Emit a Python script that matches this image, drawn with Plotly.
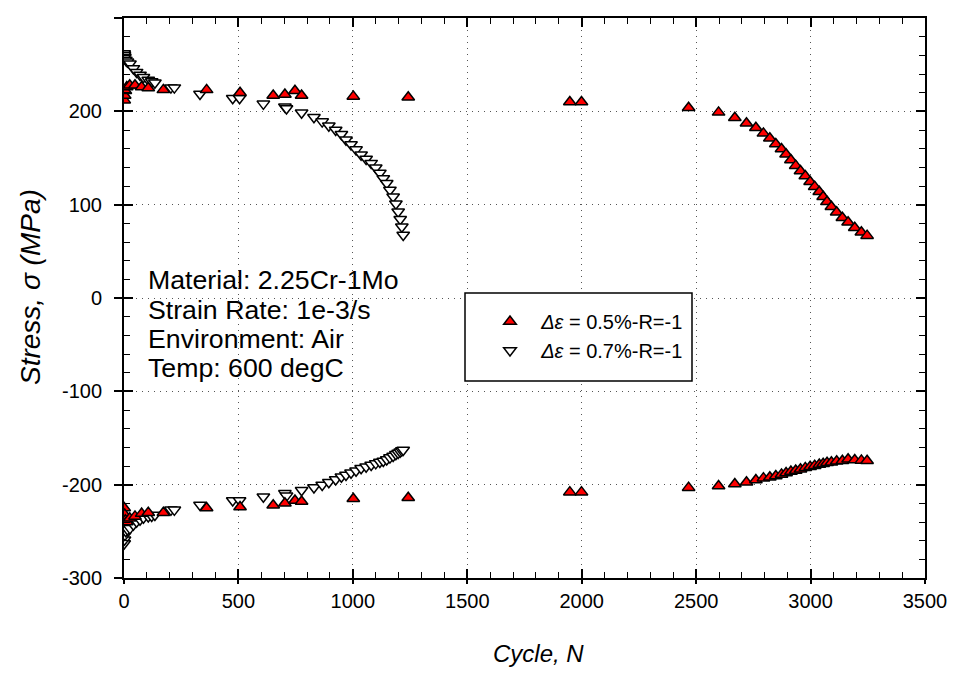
import plotly.graph_objects as go

# ---- data ----
N05 = [1, 3, 6, 12, 25, 48, 77, 106, 172, 361, 507, 652, 703, 747, 776, 1002, 1242, 1948, 1999,
       2467, 2598, 2669, 2720, 2761, 2794, 2822, 2848, 2873, 2893, 2914, 2935, 2956, 2977, 2998,
       3018, 3038, 3055, 3072, 3091, 3114, 3139, 3164, 3193, 3222, 3247]
max05 = [212, 217, 222, 226, 228, 228, 226, 225, 223, 223, 220, 217, 218, 222, 217, 216, 215, 210, 210,
         203.9, 198.9, 193.2, 187.2, 182.5, 176.4, 171.1, 165, 159.6, 154, 147.9, 141.8, 136, 130.7,
         124.6, 119.3, 113.9, 108.5, 103.2, 97.8, 91.8, 86, 81.1, 75.3, 70.4, 66.8]
min05 = [-225, -232, -238, -240, -236, -234, -231, -230, -230, -225, -224, -222, -220, -217, -218, -215,
         -214, -208, -208, -203.2, -201.4, -199.3, -197.5, -195, -193, -192, -190.7, -189, -187.5, -186,
         -184.8, -183.5, -182, -180.8, -179.6, -178.5, -177.5, -176.6, -176, -175, -174.3, -172.8,
         -173.6, -174, -174.3]

N07 = [1, 2, 4, 8, 15, 26, 41, 55, 70, 85, 106, 121, 135, 205, 220, 332, 475, 505, 609, 703, 710, 776,
       830, 866, 895, 925, 950, 970, 992, 1014, 1036, 1058, 1080, 1100, 1118, 1133, 1148, 1162, 1176,
       1188, 1198, 1207, 1214, 1220]
max07 = [262, 260, 258, 255, 253, 251, 246, 242, 239, 236.5, 233.6, 232, 230.7, 225.4, 225.4, 218.6, 214,
         214, 208, 205, 203, 198.5, 193.6, 189, 184.5, 180, 175.5, 169.5, 164.5, 159, 153.5, 149, 144.5,
         139.5, 134, 128, 123, 115.7, 108.5, 101, 92.5, 84.3, 76.4, 67.5]
min07 = [-263, -259, -254, -250, -248, -246.8, -243, -239.7, -237.5, -235.5, -234, -233.6, -232.5, -227,
         -227, -221.8, -217, -217, -213, -209.3, -212, -206, -203, -200.4, -197.5, -194.5, -191.5,
         -189.6, -187.2, -185, -182.5, -180.7, -179, -177.2, -175.8, -174.6, -173, -171, -169.3, -167.5,
         -166, -164.7, -163.5, -162.9]

x_tickvals = [0, 500, 1000, 1500, 2000, 2500, 3000, 3500]
x_ticktext = ["0", "500", "1000", "1500", "2000", "2500", "3000", "3500"]
y_tickvals = [-300, -200, -100, 0, 100, 200, 300]
y_ticktext = ["-300", "-200", "-100", "0", "100", "200", "300"]

x_title = "Cycle, N"
y_title = "Stress, σ (MPa)"
labels = ["\u00a0\u00a0<i>Δε</i> = 0.5%-R=-1", "\u00a0\u00a0<i>Δε</i> = 0.7%-R=-1"]
info_lines = ["Material: 2.25Cr-1Mo", "Strain Rate: 1e-3/s", "Environment: Air", "Temp: 600 degC"]

FONT = "Liberation Sans, Arial, sans-serif"

# page has an 8px body margin; figure sized to fit the 956x677 window
W, H = 940, 661
OFF = 8
PL, PR, PT, PB = 124 - OFF, 925 - OFF, 18 - OFF, 578 - OFF  # plot area in figure coords
PW, PH = PR - PL, PB - PT


def px_x(px):  # page px -> paper fraction
    return (px - OFF - PL) / PW


def px_y(py):
    return (PB - (py - OFF)) / PH


fig = go.Figure()

m07 = dict(symbol="triangle-down", size=11, color="white", line=dict(color="black", width=1.5))
m05 = dict(symbol="triangle-up", size=11, color="#ff0000", line=dict(color="black", width=1.5))

fig.add_trace(go.Scatter(x=N07, y=max07, mode="markers", marker=m07, name=labels[1],
                         legendgroup="b", legendrank=2))
fig.add_trace(go.Scatter(x=N07, y=min07, mode="markers", marker=m07, name=labels[1],
                         legendgroup="b", showlegend=False))
fig.add_trace(go.Scatter(x=N05, y=max05, mode="markers", marker=m05, name=labels[0],
                         legendgroup="a", legendrank=1))
fig.add_trace(go.Scatter(x=N05, y=min05, mode="markers", marker=m05, name=labels[0],
                         legendgroup="a", showlegend=False))
# empty trace that anchors the overlay axes (inside ticks)
fig.add_trace(go.Scatter(x=[None], y=[None], xaxis="x2", yaxis="y2", showlegend=False,
                         hoverinfo="skip"))

common_primary = dict(showline=True, linecolor="black", linewidth=2, mirror=True,
                      ticks="outside", tickwidth=1.5, tickcolor="black",
                      showgrid=True, gridcolor="#555555", gridwidth=1, griddash="1px,5px",
                      zeroline=False, automargin=False,
                      tickfont=dict(family=FONT, size=20, color="black"))

fig.update_layout(
    width=W, height=H,
    margin=dict(l=PL, r=W - PR, t=PT, b=H - PB),
    paper_bgcolor="white", plot_bgcolor="white",
    font=dict(family=FONT, color="black"),
    xaxis=dict(range=[0, 3500], tickmode="array", tickvals=x_tickvals, ticktext=x_ticktext,
               ticklen=4, ticklabelstandoff=0, **common_primary),
    yaxis=dict(range=[-300, 300], tickmode="array", tickvals=y_tickvals, ticktext=y_ticktext,
               ticklen=8, ticklabelstandoff=8, **common_primary),
    xaxis2=dict(range=[0, 3500], overlaying="x", side="bottom", dtick=500, tick0=0,
                ticks="inside", ticklen=9, tickwidth=1.5, tickcolor="black", mirror="ticks",
                showline=False, showgrid=False, zeroline=False, showticklabels=False,
                minor=dict(ticks="inside", ticklen=6, dtick=100, tickwidth=1.2, tickcolor="black",
                           showgrid=False)),
    yaxis2=dict(range=[-300, 300], overlaying="y", side="left", dtick=100, tick0=0,
                ticks="inside", ticklen=9, tickwidth=1.5, tickcolor="black", mirror="ticks",
                showline=False, showgrid=False, zeroline=False, showticklabels=False,
                minor=dict(ticks="inside", ticklen=6, dtick=20, tickwidth=1.2, tickcolor="black",
                           showgrid=False)),
    showlegend=True,
    legend=dict(x=px_x(490), y=px_y(302), xanchor="left", yanchor="top",
                bgcolor="rgba(0,0,0,0)", borderwidth=0,
                font=dict(family=FONT, size=20, color="black"),
                tracegroupgap=0, itemwidth=30),
)

# axis titles
fig.add_annotation(text="<i>" + x_title + "</i>", xref="paper", yref="paper",
                   x=px_x(538), y=px_y(653), xanchor="center", yanchor="middle", borderpad=0,
                   showarrow=False, font=dict(family=FONT, size=24, color="black"))
fig.add_annotation(text="<i>" + y_title + "</i>", xref="paper", yref="paper",
                   x=px_x(30), y=px_y(287), xanchor="center", yanchor="middle", textangle=-90,
                   showarrow=False, font=dict(family=FONT, size=28, color="black"))

# legend frame
fig.add_shape(type="rect", xref="paper", yref="paper",
              x0=px_x(465), x1=px_x(692), y0=px_y(381), y1=px_y(293),
              line=dict(color="black", width=1.5), fillcolor="white", layer="above")

# info text
ys_px = [280, 310, 339, 368]
for txt, ypx in zip(info_lines, ys_px):
    fig.add_annotation(text=txt, xref="paper", yref="paper", x=px_x(146),
                       y=px_y(ypx), xanchor="left", yanchor="middle", showarrow=False,
                       font=dict(family=FONT, size=26.7, color="black"))

fig.write_html("out.html")
